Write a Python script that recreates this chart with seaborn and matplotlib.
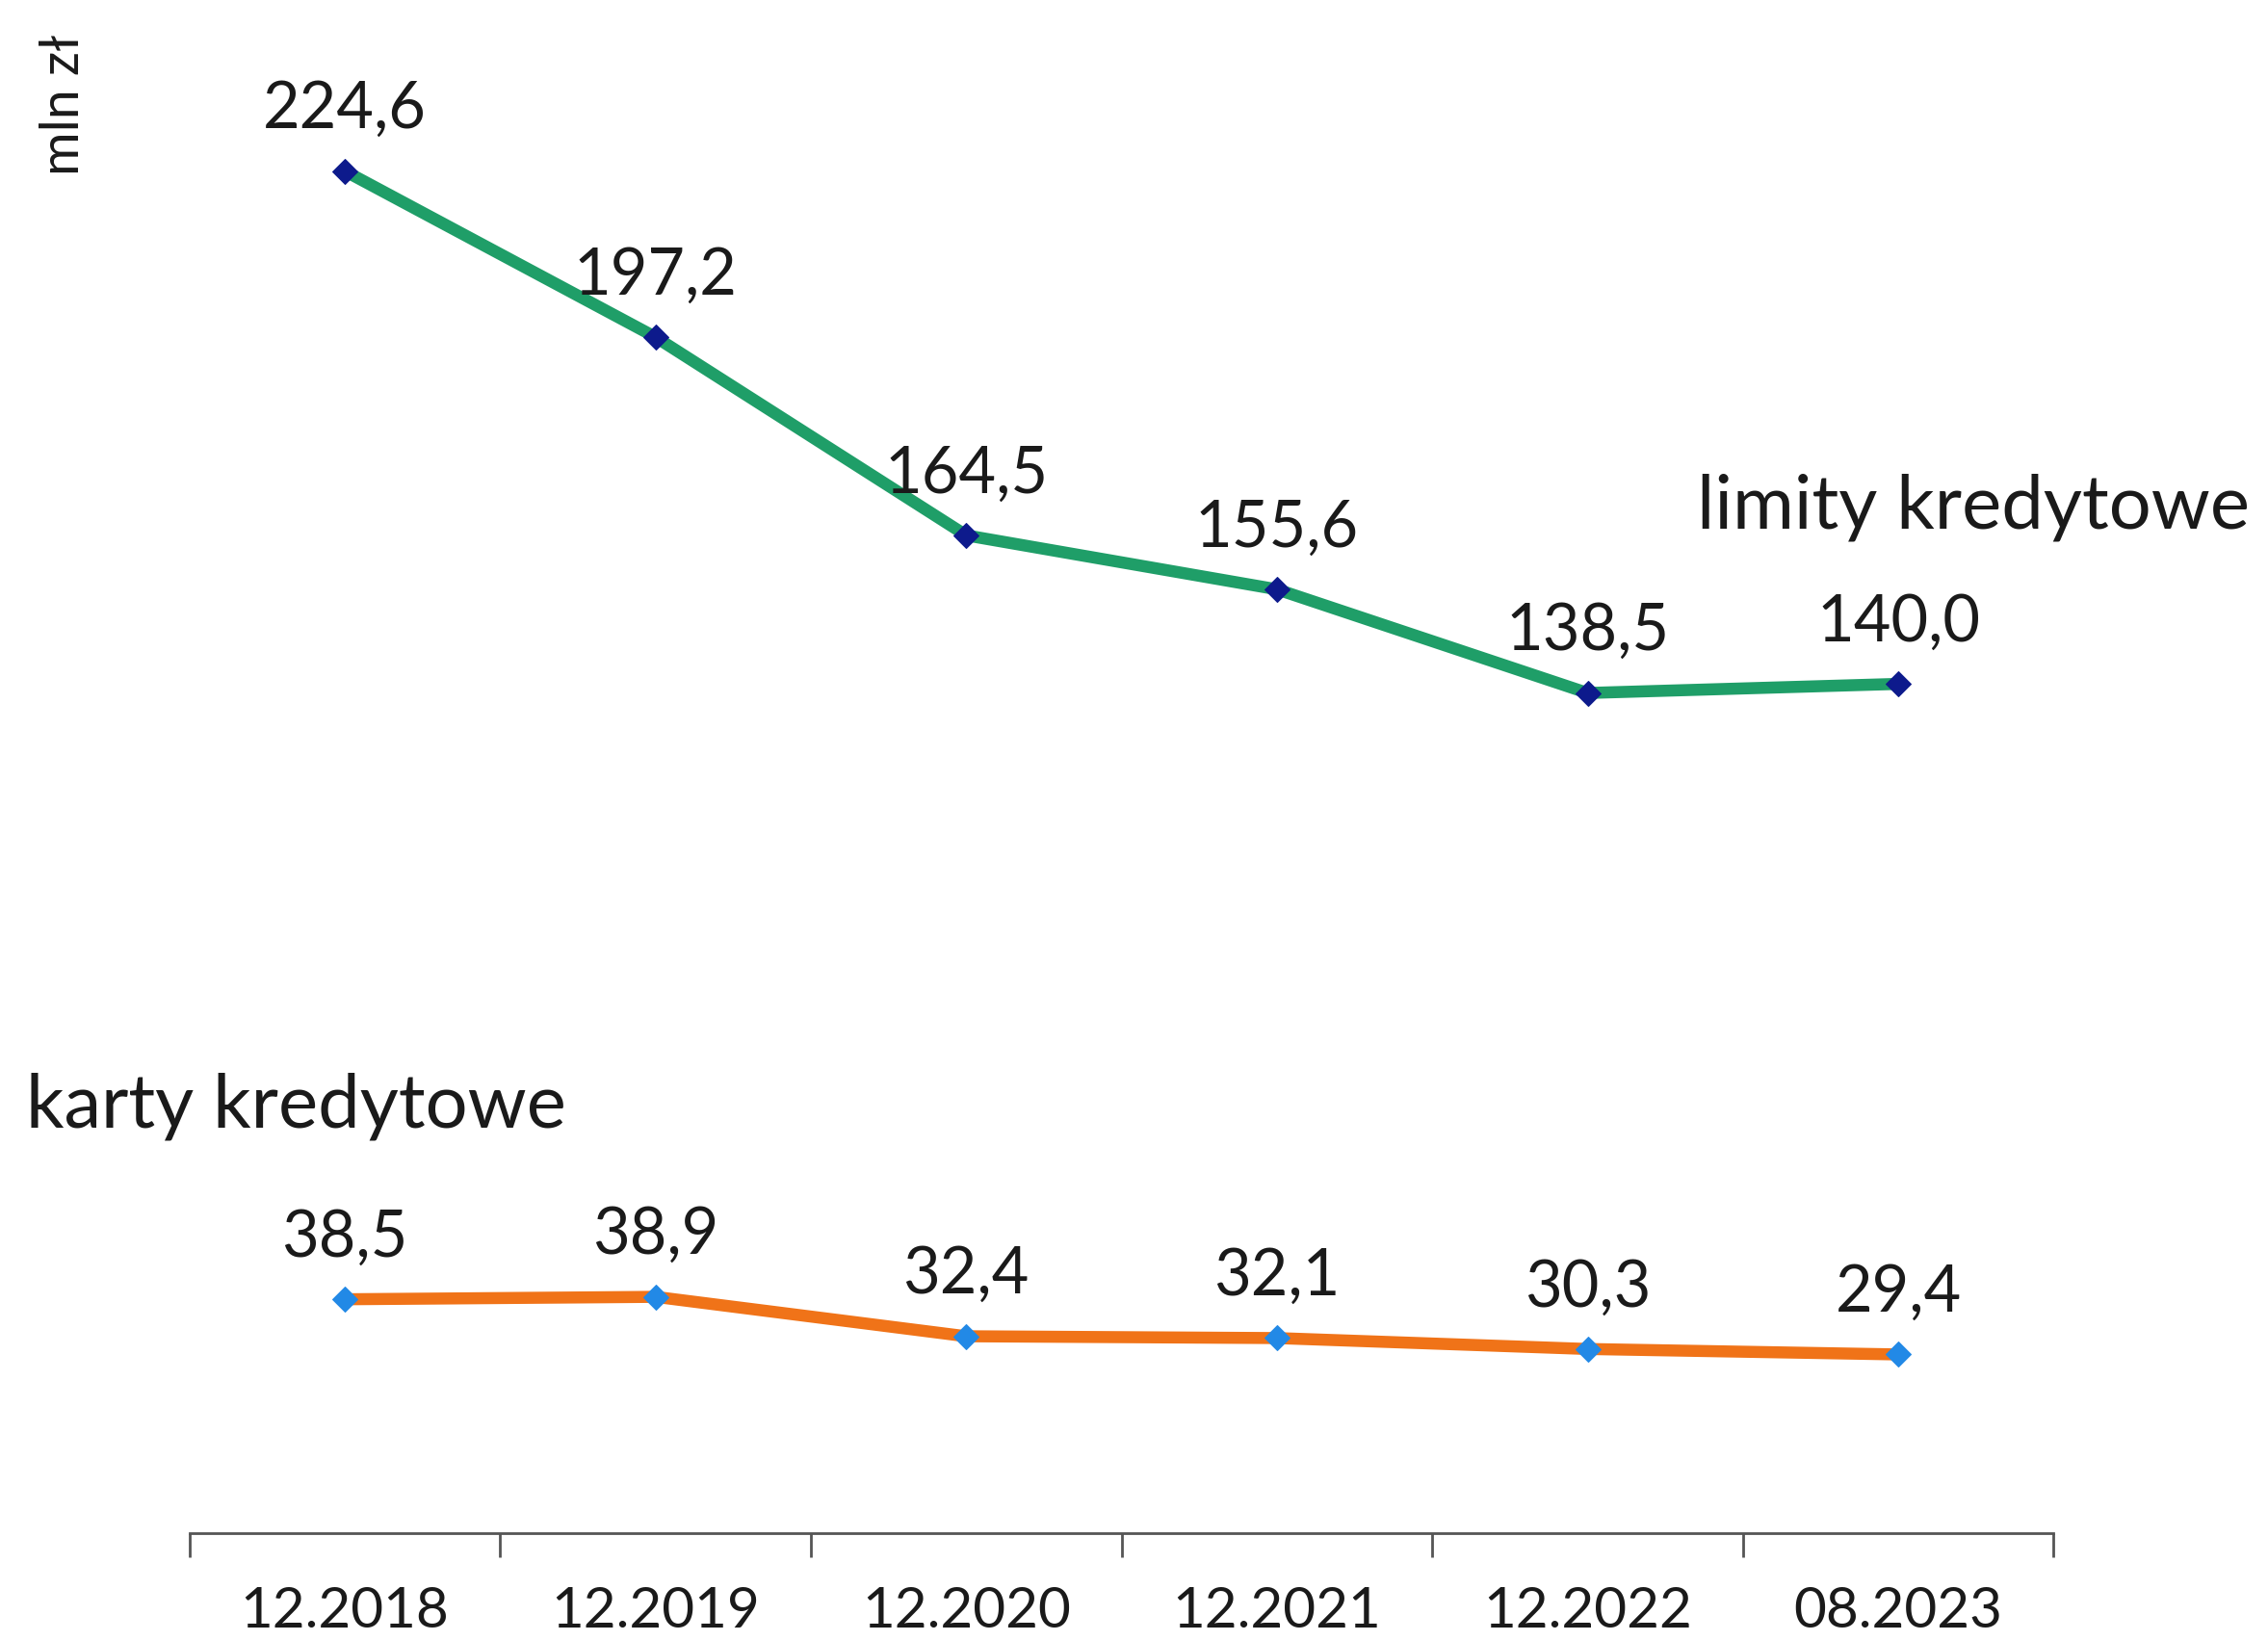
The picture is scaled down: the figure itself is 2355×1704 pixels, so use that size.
import matplotlib
matplotlib.use("Agg")
import matplotlib.pyplot as plt
from matplotlib.ticker import FixedLocator
import seaborn as sns
import pandas as pd

okresy = ["12.2018", "12.2019", "12.2020", "12.2021", "12.2022", "08.2023"]
limity = [224.6, 197.2, 164.5, 155.6, 138.5, 140.0]
karty = [38.5, 38.9, 32.4, 32.1, 30.3, 29.4]

df = pd.DataFrame({"okres": okresy, "limity": limity, "karty": karty})

sns.set_style("white")
plt.rcParams["font.family"] = ["Lato", "DejaVu Sans"]

fig = plt.figure(figsize=(23.55, 17.04), dpi=100)
ax = fig.add_axes([0.0835, 0.066, 0.822, 0.934])

sns.lineplot(data=df, x="okres", y="limity", ax=ax, color="#1f9e68", lw=9,
             marker="D", markersize=13, markerfacecolor="#0d1a8c",
             markeredgecolor="#0d1a8c", sort=False)
sns.lineplot(data=df, x="okres", y="karty", ax=ax, color="#f07318", lw=9,
             marker="D", markersize=13, markerfacecolor="#2289e6",
             markeredgecolor="#2289e6", sort=False)

for i, v in enumerate(limity):
    ax.annotate(f"{v:.1f}".replace(".", ","), (i, v), xytext=(0, 32),
                textcoords="offset points", ha="center", va="baseline",
                fontsize=48, color="#1a1a1a")
for i, v in enumerate(karty):
    ax.annotate(f"{v:.1f}".replace(".", ","), (i, v), xytext=(0, 32),
                textcoords="offset points", ha="center", va="baseline",
                fontsize=48, color="#1a1a1a")

ax.set_xlim(-0.5, 5.5)
ax.set_ylim(0, 252.8)
ax.set_xlabel("")
ax.set_ylabel("")
ax.set_yticks([])

for s in ["top", "right", "left"]:
    ax.spines[s].set_visible(False)
ax.spines["bottom"].set_color("#555555")
ax.spines["bottom"].set_linewidth(2)

ax.set_xticks(range(len(okresy)))
ax.set_xticklabels(okresy, fontsize=42)
ax.tick_params(axis="x", which="major", length=0, pad=40, colors="#1a1a1a")
ax.xaxis.set_minor_locator(FixedLocator([i - 0.5 for i in range(len(okresy) + 1)]))
ax.tick_params(axis="x", which="minor", bottom=True, length=18, width=2,
               color="#555555", direction="out")

fig.text(1762 / 2355, 1 - 548 / 1704, "limity kredytowe", fontsize=56,
         color="#1a1a1a", ha="left", va="baseline")
fig.text(27 / 2355, 1 - 1171 / 1704, "karty kredytowe", fontsize=56,
         color="#1a1a1a", ha="left", va="baseline")
fig.text(92 / 2355, 1 - 36 / 1704, "mln zł", fontsize=40, rotation=90,
         color="#1a1a1a", ha="right", va="top")

fig.savefig("out.png", dpi=100)
